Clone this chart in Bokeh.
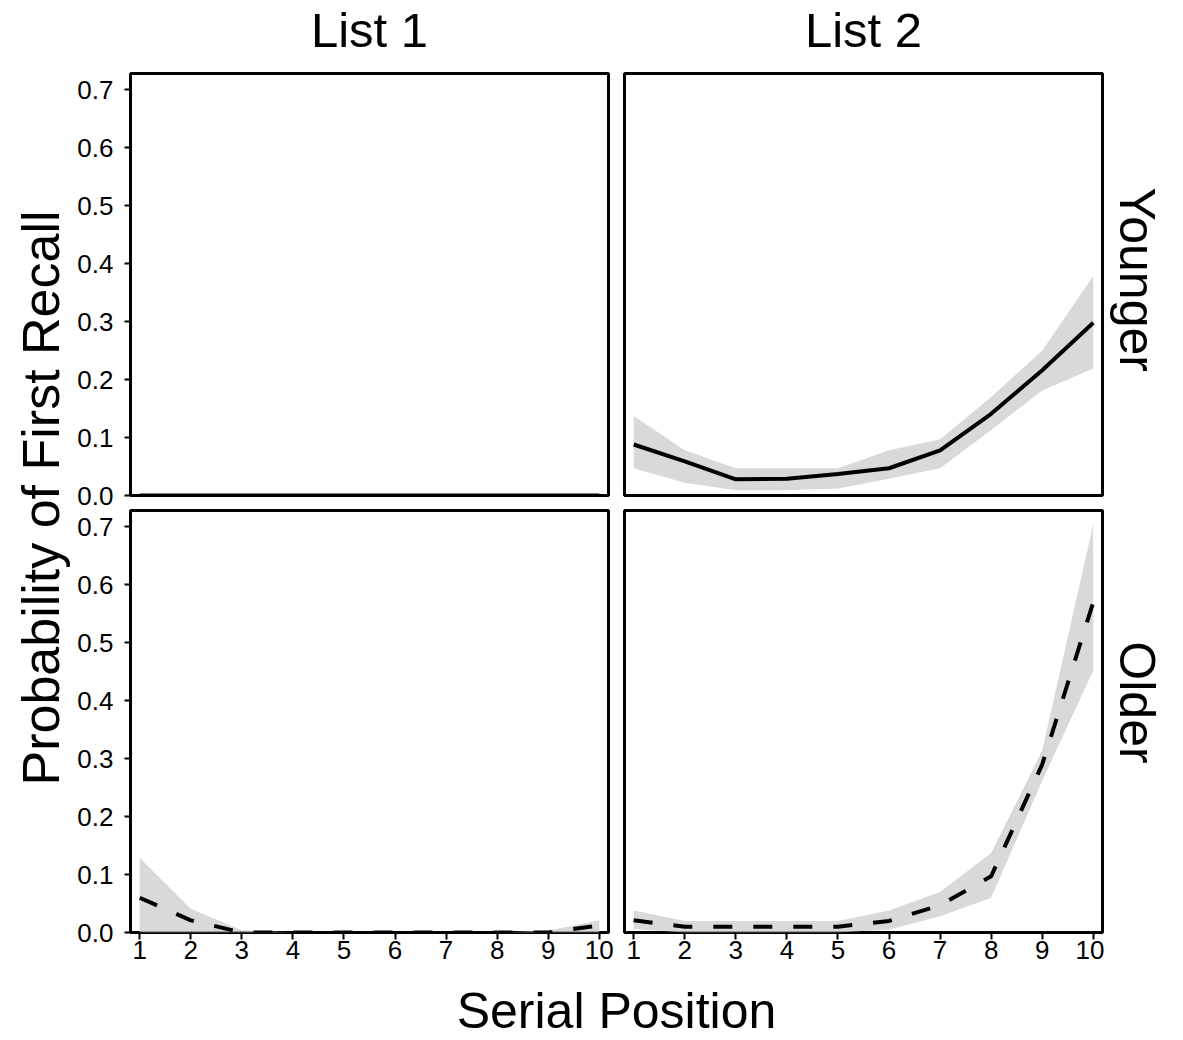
import math
from bokeh.plotting import figure
from bokeh.models import (ColumnDataSource, Range1d, FixedTicker, Spacer,
                          NumeralTickFormatter, BoxAnnotation)
from bokeh.layouts import row, column
from bokeh.core.properties import value
from bokeh.embed import file_html
from bokeh.resources import INLINE

# ---------------- data ----------------
serial_position = [1, 2, 3, 4, 5, 6, 7, 8, 9, 10]
x_ticks = [1, 2, 3, 4, 5, 6, 7, 8, 9, 10]
y_ticks = [0.0, 0.1, 0.2, 0.3, 0.4, 0.5, 0.6, 0.7]
list_labels = ["List 1", "List 2"]
group_labels = ["Younger", "Older"]
x_title = "Serial Position"
y_title = "Probability of First Recall"

younger_list1_mean = [0.0, 0.0, 0.0, 0.0, 0.0, 0.0, 0.0, 0.0, 0.0, 0.0]
younger_list1_lo = [0.0, 0.0, 0.0, 0.0, 0.0, 0.0, 0.0, 0.0, 0.0, 0.0]
younger_list1_hi = [0.0, 0.0, 0.0, 0.0, 0.0, 0.0, 0.0, 0.0, 0.0, 0.0]

younger_list2_mean = [0.088, 0.059, 0.028, 0.029, 0.037, 0.047, 0.078, 0.141, 0.216, 0.298]
younger_list2_lo = [0.047, 0.022, 0.009, 0.009, 0.012, 0.029, 0.047, 0.113, 0.181, 0.219]
younger_list2_hi = [0.137, 0.078, 0.047, 0.047, 0.047, 0.078, 0.097, 0.170, 0.250, 0.379]

older_list1_mean = [0.060, 0.021, 0.0, 0.0, 0.0, 0.0, 0.0, 0.0, 0.0, 0.012]
older_list1_lo = [0.0, 0.0, 0.0, 0.0, 0.0, 0.0, 0.0, 0.0, 0.0, 0.0]
older_list1_hi = [0.129, 0.041, 0.004, 0.0, 0.0, 0.0, 0.0, 0.0, 0.003, 0.021]

older_list2_mean = [0.021, 0.010, 0.010, 0.010, 0.010, 0.020, 0.047, 0.097, 0.290, 0.570]
older_list2_lo = [0.006, 0.0, 0.0, 0.0, 0.0, 0.005, 0.028, 0.060, 0.262, 0.452]
older_list2_hi = [0.038, 0.020, 0.020, 0.020, 0.020, 0.038, 0.070, 0.137, 0.314, 0.705]

# ---------------- style ----------------
FONT = "Liberation Sans"
RIBBON = "#d9d9d9"
TICK_SIZE = "26px"
H_SIZE = "49px"
X_SIZE = "50px"
YT_SIZE = "52px"
G_SIZE = "50px"

X_RANGE = (0.82, 10.18)
Y_RANGE = (0.0, 0.728)

C0, C1, C2, C3 = 74, 542, 488, 76
R0, R1, R2, R3 = 71, 438, 466, 64
LB = 56  # left border of the left-hand panels


def panel(w, h, bl, br, bt, bb, show_x, show_y, mean, lo, hi, dash):
    p = figure(width=w, height=h,
               x_range=Range1d(*X_RANGE), y_range=Range1d(*Y_RANGE),
               x_axis_location="below" if show_x else None,
               y_axis_location="left" if show_y else None,
               toolbar_location=None, output_backend="svg",
               min_border_left=bl, min_border_right=br,
               min_border_top=bt, min_border_bottom=bb)
    p.grid.visible = False
    p.outline_line_color = "black"
    p.outline_line_width = 3
    p.background_fill_color = "white"
    p.border_fill_color = "white"
    src = ColumnDataSource(dict(x=serial_position, m=mean, lo=lo, hi=hi))
    p.varea(x="x", y1="lo", y2="hi", source=src, fill_color=RIBBON, fill_alpha=1.0)
    p.line(x="x", y="m", source=src, line_color="black", line_width=4,
           line_dash=dash)
    p.add_layout(BoxAnnotation(fill_alpha=0, fill_color=None, line_color="black",
                               line_width=3, level="overlay"))
    for ax in p.xaxis:
        ax.ticker = FixedTicker(ticks=x_ticks)
        ax.axis_line_color = None
        ax.major_tick_out = 7
        ax.major_tick_in = 0
        ax.major_tick_line_width = 2
        ax.major_tick_line_color = "black"
        ax.minor_tick_line_color = None
        ax.major_label_text_font = FONT
        ax.major_label_text_font_size = TICK_SIZE
        ax.major_label_text_color = "black"
        ax.major_label_standoff = 1
    for ax in p.yaxis:
        ax.ticker = FixedTicker(ticks=y_ticks)
        ax.formatter = NumeralTickFormatter(format="0.0")
        ax.axis_line_color = None
        ax.major_tick_out = 6
        ax.major_tick_in = 0
        ax.major_tick_line_width = 2
        ax.major_tick_line_color = "black"
        ax.minor_tick_line_color = None
        ax.major_label_text_font = FONT
        ax.major_label_text_font_size = TICK_SIZE
        ax.major_label_text_color = "black"
        ax.major_label_standoff = 11
    return p


def text_fig(w, h, xr, yr, x, y, txt, size, angle=0.0,
             bl=0, br=0):
    f = figure(width=w, height=h, x_range=Range1d(*xr), y_range=Range1d(*yr),
               x_axis_location=None, y_axis_location=None,
               toolbar_location=None, output_backend="svg",
               min_border_left=bl, min_border_right=br,
               min_border_top=0, min_border_bottom=0)
    f.grid.visible = False
    f.outline_line_color = None
    f.background_fill_color = "white"
    f.border_fill_color = "white"
    f.text(x=[x], y=[y], text=[txt], angle=angle,
           text_font=value(FONT), text_font_size=size, text_color="black",
           text_align="center", text_baseline="alphabetic")
    return f


# top row: frame 73..495 (page), bottom border 14 so the "0.0" label fits
tl = panel(C1, R1, LB, 8, 2, 14, False, True,
           younger_list1_mean, younger_list1_lo, younger_list1_hi, "solid")
tr = panel(C2, R1, 8, 2, 2, 14, False, False,
           younger_list2_mean, younger_list2_lo, younger_list2_hi, "solid")
# bottom row: frame 510..932 (page)
bl = panel(C1, R2, LB, 8, 1, 43, True, True,
           older_list1_mean, older_list1_lo, older_list1_hi, "19 21")
br = panel(C2, R2, 8, 2, 1, 43, True, False,
           older_list2_mean, older_list2_lo, older_list2_hi, "19 21")

# strip labels on top share the horizontal data frame of the panels below
h1 = text_fig(C1, R0, X_RANGE, (0, R0), 5.5, 42, list_labels[0], H_SIZE, bl=LB, br=8)
h2 = text_fig(C2, R0, X_RANGE, (0, R0), 5.5, 42, list_labels[1], H_SIZE, bl=8, br=2)

ytit = text_fig(C0, R1 + R2, (0, C0), (0, R1 + R2), 40, 477.5, y_title, YT_SIZE,
                angle=math.pi / 2)
young = text_fig(C3, R1, (0, C3), (0, R1), 32, R1 - (285 - R0), group_labels[0], G_SIZE,
                 angle=-math.pi / 2)
old = text_fig(C3, R2, (0, C3), (0, R2), 32, R2 - (721 - R0 - R1), group_labels[1], G_SIZE,
               angle=-math.pi / 2)
xtit = text_fig(C1 + C2, R3, (0, C1 + C2), (0, R3), 542, 29, x_title, X_SIZE)

layout = column(
    row(Spacer(width=C0, height=R0), h1, h2),
    row(ytit, column(row(tl, tr, young), row(bl, br, old))),
    row(Spacer(width=C0, height=R3), xtit),
)

open("out.html", "w").write(file_html(layout, INLINE))
